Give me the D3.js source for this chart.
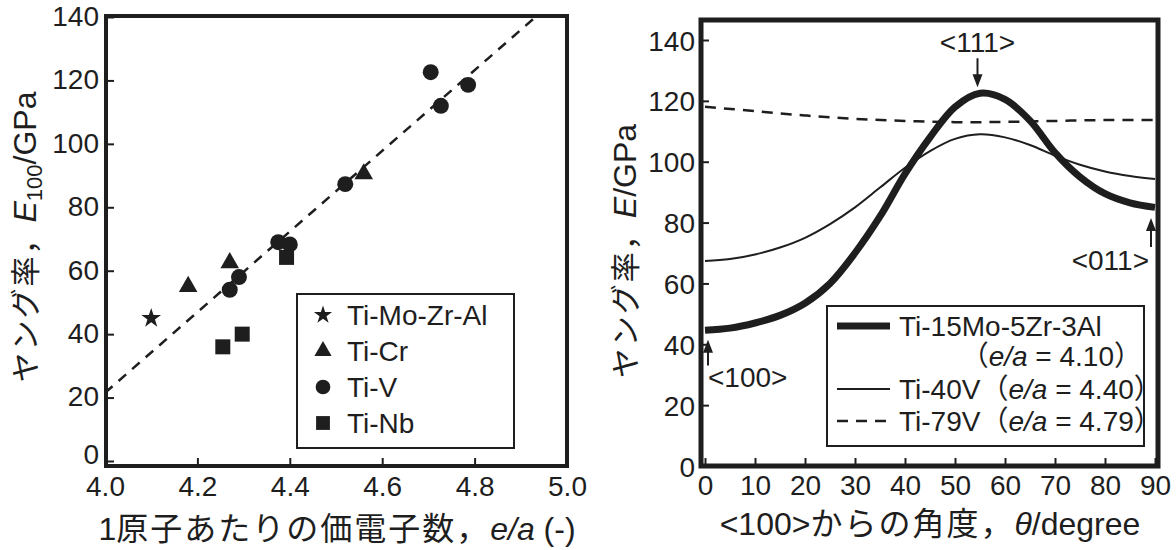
<!DOCTYPE html>
<html>
<head>
<meta charset="utf-8">
<script src="https://cdn.jsdelivr.net/npm/d3@7"></script>
<style>
  body { margin: 0; background: #fff; }
  text { font-family: "Liberation Sans", "Noto Sans CJK JP", sans-serif; fill: #1e1e1e; }
</style>
</head>
<body>
<div id="wrapper"></div>
<script>
// left panel: E100 against e/a
const eaTicks = [4.0, 4.2, 4.4, 4.6, 4.8, 5.0];
const modulusTicks = [0, 20, 40, 60, 80, 100, 120, 140];
const alloyNames = ["Ti-Mo-Zr-Al", "Ti-Cr", "Ti-V", "Ti-Nb"];
const tiMoZrAl = [[4.10, 45]];
const tiCr = [[4.18, 55], [4.27, 62.5], [4.56, 90.5]];
const tiV = [[4.27, 54], [4.29, 58], [4.375, 69], [4.40, 68.3], [4.52, 87.3], [4.705, 122.6], [4.727, 112], [4.786, 118.6]];
const tiNb = [[4.255, 36], [4.297, 40], [4.393, 64.2]];
const fitLine = [[4.0, 21.5], [4.932, 140]];

// right panel: E against angle from <100>
const angleTicks = [0, 10, 20, 30, 40, 50, 60, 70, 80, 90];
const angles = [0, 5, 10, 15, 20, 25, 30, 35, 40, 45, 50, 55, 60, 65, 70, 75, 80, 85, 90];
const eTi15Mo = [44.6, 45.3, 47, 49.5, 53.5, 60, 70, 82, 96, 108, 118, 122.5, 120.5, 113.5, 103, 95, 89.5, 86.5, 85];
const eTi40V = [67.4, 68, 69.5, 71.8, 75, 79.5, 85, 91.5, 98, 103.5, 107.5, 109, 108, 105.5, 102, 99, 96.8, 95.3, 94.3];
const anglesTi79V = [0, 10, 20, 30, 40, 50, 60, 70, 80, 90];
const eTi79V = [118.1, 116.6, 115.2, 114.1, 113.4, 113.0, 113.1, 113.4, 113.7, 113.7];
const seriesNames = ["Ti-15Mo-5Zr-3Al", "Ti-40V", "Ti-79V"];
const seriesEa = ["4.10", "4.40", "4.79"];
const directions = [
  { label: "<100>", angle: 0.6, from: 33, to: 41.5 },
  { label: "<111>", angle: 54.5, from: 134, to: 124.5 },
  { label: "<011>", angle: 89.2, from: 72, to: 81.5 }
];

function drawCharts() {
  const svg = d3.select("#wrapper")
    .append("svg")
    .attr("width", 1176)
    .attr("height", 550);

  const ink = "#1e1e1e";

  // ---------- left panel ----------
  const xL = d3.scaleLinear().domain([4.0, 5.0]).range([105, 567]);
  const yL = d3.scaleLinear().domain([0, 140]).range([461, 17]);

  const left = svg.append("g");

  left.append("rect")
    .attr("x", 106).attr("y", 16)
    .attr("width", 461).attr("height", 450)
    .attr("fill", "none")
    .attr("stroke", ink)
    .attr("stroke-width", 4);

  const yAxisL = left.append("g")
    .attr("transform", "translate(106,0)")
    .call(d3.axisLeft(yL).tickValues(modulusTicks).tickSizeInner(-8).tickSizeOuter(0).tickPadding(7));
  const xAxisL = left.append("g")
    .attr("transform", "translate(0,466)")
    .call(d3.axisBottom(xL).tickValues(eaTicks).tickFormat(d3.format(".1f")).tickSizeInner(-8).tickSizeOuter(0).tickPadding(10));

  [yAxisL, xAxisL].forEach(a => {
    a.select(".domain").remove();
    a.selectAll(".tick line").attr("stroke", ink).attr("stroke-width", 2);
    a.selectAll("text").attr("font-size", 28).attr("fill", ink).style("font-family", null);
  });
  yAxisL.selectAll("text").attr("dy", d => d === 0 ? "0.1em" : "0.3em");

  left.append("path")
    .attr("d", d3.line().x(d => xL(d[0])).y(d => yL(d[1]))(fitLine))
    .attr("fill", "none")
    .attr("stroke", ink)
    .attr("stroke-width", 2.5)
    .attr("stroke-dasharray", "10 8");

  const symbolTypes = [d3.symbolStar, d3.symbolTriangle, d3.symbolCircle, d3.symbolSquare];
  const symbolSizes = [120, 150, 200, 225];
  const groups = [tiMoZrAl, tiCr, tiV, tiNb];

  groups.forEach((pts, i) => {
    left.append("g").selectAll("path")
      .data(pts)
      .enter()
      .append("path")
      .attr("transform", d => `translate(${xL(d[0])},${yL(d[1])})`)
      .attr("d", d3.symbol(symbolTypes[i], symbolSizes[i]))
      .attr("fill", ink);
  });

  const legL = left.append("g");
  legL.append("rect")
    .attr("x", 297).attr("y", 294)
    .attr("width", 217).attr("height", 154)
    .attr("fill", "#fff")
    .attr("stroke", ink)
    .attr("stroke-width", 2);
  alloyNames.forEach((name, i) => {
    const cy = 315 + i * 36;
    legL.append("path")
      .attr("transform", `translate(323,${cy})`)
      .attr("d", d3.symbol(symbolTypes[i], symbolSizes[i] * 0.85))
      .attr("fill", ink);
    legL.append("text")
      .attr("x", 347).attr("y", cy + 10)
      .attr("font-size", 28)
      .text(name);
  });

  const xTitleL = left.append("text")
    .attr("x", 337).attr("y", 540)
    .attr("text-anchor", "middle")
    .attr("font-size", 32);
  xTitleL.append("tspan").text("1");
  xTitleL.append("tspan").attr("letter-spacing", 2).text("原子あたりの価電子数，");
  xTitleL.append("tspan").attr("font-style", "italic").text("e/a");
  xTitleL.append("tspan").text(" (-)");

  const yTitleL = left.append("text")
    .attr("transform", "translate(36,237) rotate(-90)")
    .attr("text-anchor", "middle")
    .attr("font-size", 32);
  yTitleL.append("tspan").attr("font-size", 30).attr("letter-spacing", 2).text("ヤング率，");
  yTitleL.append("tspan").attr("font-style", "italic").text("E");
  yTitleL.append("tspan").attr("font-size", 22).attr("dy", 6).text("100");
  yTitleL.append("tspan").attr("dy", -6).text("/GPa");

  // ---------- right panel ----------
  const xR = d3.scaleLinear().domain([0, 90]).range([705, 1155]);
  const yR = d3.scaleLinear().domain([0, 140]).range([466, 40]);

  const right = svg.append("g");

  const yAxisR = right.append("g")
    .attr("transform", "translate(701,0)")
    .call(d3.axisLeft(yR).tickValues(modulusTicks).tickSizeInner(-8).tickSizeOuter(0).tickPadding(6));
  const xAxisR = right.append("g")
    .attr("transform", "translate(0,466)")
    .call(d3.axisBottom(xR).tickValues(angleTicks).tickSizeInner(-8).tickSizeOuter(0).tickPadding(9));

  [yAxisR, xAxisR].forEach(a => {
    a.select(".domain").remove();
    a.selectAll(".tick line").attr("stroke", ink).attr("stroke-width", 2);
    a.selectAll("text").attr("font-size", 28).attr("fill", ink).style("font-family", null);
  });
  yAxisR.selectAll("text").attr("dy", "0.36em");

  const curve = d3.line()
    .x(d => xR(d[0]))
    .y(d => yR(d[1]))
    .curve(d3.curveCatmullRom.alpha(0.5));

  right.append("path")
    .attr("d", curve(d3.zip(anglesTi79V, eTi79V)))
    .attr("fill", "none")
    .attr("stroke", ink)
    .attr("stroke-width", 2.5)
    .attr("stroke-dasharray", "11 8");
  right.append("path")
    .attr("d", curve(d3.zip(angles, eTi40V)))
    .attr("fill", "none")
    .attr("stroke", ink)
    .attr("stroke-width", 2);
  right.append("path")
    .attr("d", curve(d3.zip(angles, eTi15Mo)))
    .attr("fill", "none")
    .attr("stroke", ink)
    .attr("stroke-width", 7);

  right.append("rect")
    .attr("x", 701).attr("y", 20)
    .attr("width", 457).attr("height", 446)
    .attr("fill", "none")
    .attr("stroke", ink)
    .attr("stroke-width", 5);

  // direction arrows
  directions.forEach(d => {
    const x = xR(d.angle);
    const y1 = yR(d.from);
    const y2 = yR(d.to);
    const dir = y2 > y1 ? 1 : -1;
    right.append("line")
      .attr("x1", x).attr("x2", x)
      .attr("y1", y1).attr("y2", y2 - dir * 10)
      .attr("stroke", ink)
      .attr("stroke-width", 2);
    right.append("path")
      .attr("d", `M${x},${y2} L${x - 5},${y2 - dir * 13} L${x + 5},${y2 - dir * 13} Z`)
      .attr("fill", ink);
  });
  right.append("text")
    .attr("x", xR(0.6)).attr("y", yR(29.3) + 10)
    .attr("font-size", 28)
    .text(directions[0].label);
  right.append("text")
    .attr("x", xR(54.5)).attr("y", yR(139.5) + 10)
    .attr("text-anchor", "middle")
    .attr("font-size", 28)
    .text(directions[1].label);
  right.append("text")
    .attr("x", xR(88.8)).attr("y", yR(67.6) + 10)
    .attr("text-anchor", "end")
    .attr("font-size", 28)
    .text(directions[2].label);

  // legend
  const legR = right.append("g");
  legR.append("rect")
    .attr("x", 827).attr("y", 306)
    .attr("width", 317).attr("height", 140)
    .attr("fill", "#fff")
    .attr("stroke", ink)
    .attr("stroke-width", 2);

  const rows = [326, 389, 421];
  const widths = [7, 2, 2.5];
  const dashes = [null, null, "11 8"];
  seriesNames.forEach((name, i) => {
    legR.append("line")
      .attr("x1", 837).attr("x2", 890)
      .attr("y1", rows[i]).attr("y2", rows[i])
      .attr("stroke", ink)
      .attr("stroke-width", widths[i])
      .attr("stroke-dasharray", dashes[i]);
  });

  function eaLabel(sel, value) {
    sel.append("tspan").text("（");
    sel.append("tspan").attr("font-style", "italic").text("e/a");
    sel.append("tspan").text(" = " + value + "）");
  }

  legR.append("text")
    .attr("x", 899).attr("y", rows[0] + 10)
    .attr("font-size", 28)
    .text(seriesNames[0]);
  eaLabel(legR.append("text")
    .attr("x", 1142).attr("y", 356 + 10)
    .attr("text-anchor", "end")
    .attr("font-size", 28), seriesEa[0]);

  [1, 2].forEach(i => {
    const t = legR.append("text")
      .attr("x", 899).attr("y", rows[i] + 10)
      .attr("font-size", 28);
    t.append("tspan").text(seriesNames[i]);
    eaLabel(t, seriesEa[i]);
  });

  const xTitleR = right.append("text")
    .attr("x", 930).attr("y", 535)
    .attr("text-anchor", "middle")
    .attr("font-size", 32);
  xTitleR.append("tspan").text("<100>");
  xTitleR.append("tspan").attr("letter-spacing", 2).text("からの角度，");
  xTitleR.append("tspan").attr("font-style", "italic").text("θ");
  xTitleR.append("tspan").text("/degree");

  const yTitleR = right.append("text")
    .attr("transform", "translate(636,251) rotate(-90)")
    .attr("text-anchor", "middle")
    .attr("font-size", 32);
  yTitleR.append("tspan").attr("font-size", 30).attr("letter-spacing", 2).text("ヤング率，");
  yTitleR.append("tspan").attr("font-style", "italic").text("E");
  yTitleR.append("tspan").text("/GPa");
}

drawCharts();
</script>
</body>
</html>
